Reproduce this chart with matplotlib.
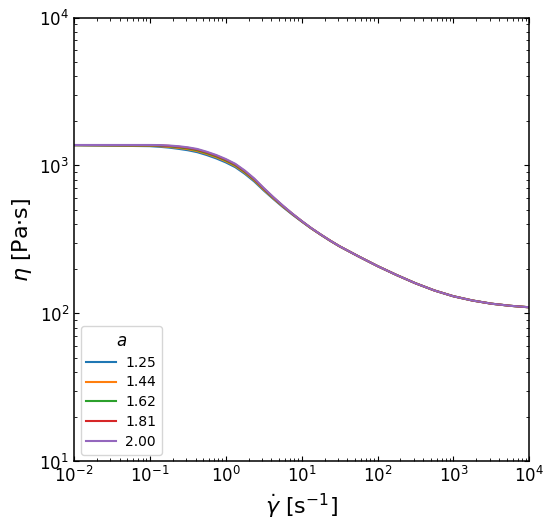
import matplotlib
matplotlib.use("Agg")
import matplotlib.pyplot as plt
import numpy as np

log_rate = [-2, -1, -0.875, -0.75, -0.625, -0.5, -0.375, -0.25, -0.125, 0,
            0.125, 0.25, 0.375, 0.5, 0.625, 0.75, 0.875, 1.0, 1.125, 1.25,
            1.375, 1.5, 1.75, 2.0, 2.25, 2.5, 2.75, 3.0, 3.25, 3.5, 3.75, 4.0]

# above ~50 s^-1 all five curves sit on top of each other
tail = [243, 209, 182, 160, 143, 130.7, 122.4, 116.5, 112.7, 110.1]

eta_125 = [1370, 1351, 1338, 1321, 1296, 1268, 1230, 1176, 1116, 1049, 974, 879,
           780, 678, 595, 525, 467, 418, 376, 341, 310, 284] + tail
eta_144 = [1372, 1360, 1351, 1336, 1315, 1289, 1252, 1198, 1137, 1069, 992, 895,
           793, 687, 601, 529, 470, 419.5, 376.5, 341, 310.5, 284.2] + tail
eta_162 = [1373.5, 1366, 1360, 1348, 1329, 1304, 1268, 1213.5, 1153, 1083.4, 1006,
           906.7, 802.3, 694.4, 606, 532.5, 471.4, 420.5, 377.1, 341.5, 310.7, 284.3] + tail
eta_181 = [1375, 1371.5, 1367.7, 1357.3, 1340.5, 1316.6, 1281.9, 1227, 1166.2, 1095.9,
           1017.6, 916.8, 810.4, 700.2, 609.8, 535, 472.8, 421.3, 377.6, 341.8, 310.9,
           284.4] + tail
eta_200 = [1376, 1376, 1374, 1365, 1350, 1327, 1293, 1238, 1177, 1106, 1027, 925,
           817, 705, 613, 537, 474, 422, 378, 342, 311, 284.5] + tail

a_labels = ["1.25", "1.44", "1.62", "1.81", "2.00"]
series = [eta_125, eta_144, eta_162, eta_181, eta_200]
colors = ["tab:blue", "tab:orange", "tab:green", "tab:red", "tab:purple"]

shear_rate = 10.0 ** np.array(log_rate)

fig = plt.figure(figsize=(5.5, 5.24), dpi=100)
ax = fig.add_axes([0.1345, 0.1193, 0.828, 0.8473])

for lab, eta, c in zip(a_labels, series, colors):
    ax.plot(shear_rate, eta, color=c, lw=1.5, label=lab)

ax.set_xscale("log")
ax.set_yscale("log")
ax.set_xlim(1e-2, 1e4)
ax.set_ylim(1e1, 1e4)
ax.set_xlabel(r"$\dot{\gamma}$ [s$^{-1}$]", fontsize=16)
ax.set_ylabel(r"$\eta$ [Pa$\cdot$s]", fontsize=16)
ax.tick_params(which="both", direction="in", top=True, right=True, labelsize=12)
for s in ax.spines.values():
    s.set_linewidth(1.1)

ax.legend(title=r"$a$", loc="lower left", fontsize=10, title_fontsize=12,
          labelspacing=0.42, handlelength=2.1, handletextpad=0.7)

fig.savefig("out.png", dpi=100)
